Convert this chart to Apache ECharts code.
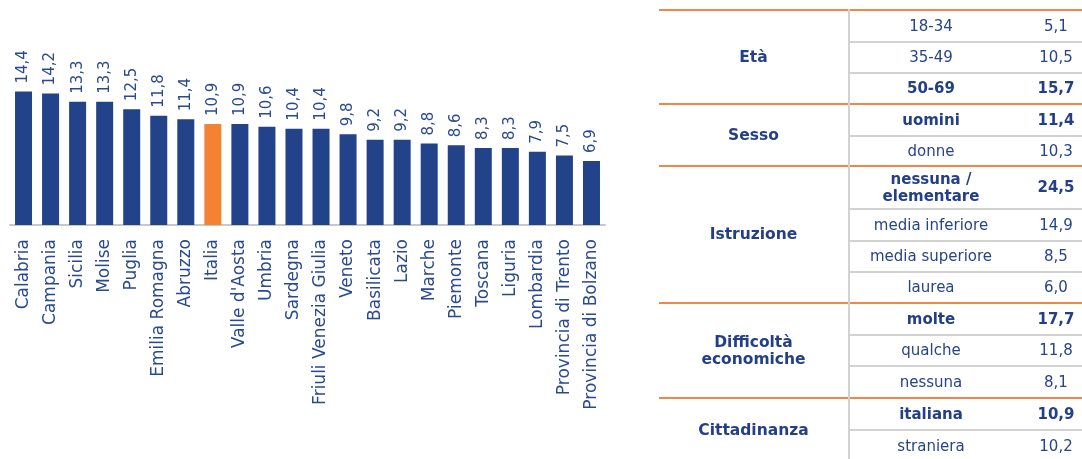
<!DOCTYPE html>
<html>
<head>
<meta charset="utf-8">
<script src="https://cdn.jsdelivr.net/npm/echarts@6/dist/echarts.min.js"></script>
<style>
  html, body { margin: 0; padding: 0; background: #fff; }
  #chart { position: absolute; left: 0; top: 0; width: 1082px; height: 459px; }
  #table {
    position: absolute; left: 659px; top: 9px; width: 423px;
    border-collapse: collapse; font-family: "DejaVu Sans", Verdana, sans-serif;
    font-size: 15px; color: #26448c;
  }
  #table td { padding: 0; text-align: center; line-height: 17px; }
  #table td.grp { width: 189px; font-weight: bold; font-size: 15.5px; border-right: 2px solid #d2d2d2; color: #223f88; }
  #table td.mid { width: 162px; }
  #table td.val { padding-left: 18px; }
  #table td.b { font-weight: bold; color: #223f88; }
  #table tr.first td { border-top: 2px solid #f0874a; }
  #table tr.inner td.mid, #table tr.inner td.val { border-top: 2px solid #d2d2d2; }
</style>
</head>
<body>
<div id="chart"></div>
<table id="table"></table>
<script>
const regions = ['Calabria', 'Campania', 'Sicilia', 'Molise', 'Puglia', 'Emilia Romagna', 'Abruzzo', 'Italia',
  "Valle d'Aosta", 'Umbria', 'Sardegna', 'Friuli Venezia Giulia', 'Veneto', 'Basilicata', 'Lazio', 'Marche',
  'Piemonte', 'Toscana', 'Liguria', 'Lombardia', 'Provincia di Trento', 'Provincia di Bolzano']
const rates = [14.4, 14.2, 13.3, 13.3, 12.5, 11.8, 11.4, 10.9, 10.9, 10.6, 10.4, 10.4, 9.8, 9.2, 9.2, 8.8,
  8.6, 8.3, 8.3, 7.9, 7.5, 6.9]
const highlight = 'Italia'

// table: group label, rows [label, value, bold]
const groups = ['Età', 'Sesso', 'Istruzione', 'Difficoltà<br>economiche', 'Cittadinanza']
const groupRows = [
  [['18-34', '5,1', false], ['35-49', '10,5', false], ['50-69', '15,7', true]],
  [['uomini', '11,4', true], ['donne', '10,3', false]],
  [['nessuna /<br>elementare', '24,5', true], ['media inferiore', '14,9', false], ['media superiore', '8,5', false], ['laurea', '6,0', false]],
  [['molte', '17,7', true], ['qualche', '11,8', false], ['nessuna', '8,1', false]],
  [['italiana', '10,9', true], ['straniera', '10,2', false]]
]

const blue = '#22428a'
const orange = '#f58233'
const textBlue = '#2a4a90'

const chart = echarts.init(document.getElementById('chart'))
chart.setOption({
  animation: false,
  grid: { left: 10, right: 477, top: 86, bottom: 234 },
  xAxis: {
    type: 'category',
    data: regions,
    axisTick: { show: false },
    axisLine: { lineStyle: { color: '#c8c8c8', width: 2 } },
    axisLabel: {
      interval: 0,
      rotate: 90,
      margin: 14,
      color: textBlue,
      fontFamily: 'DejaVu Sans',
      fontSize: 17
    }
  },
  yAxis: {
    type: 'value',
    min: 0,
    max: 15,
    show: false,
    splitLine: { show: false }
  },
  series: [{
    type: 'bar',
    barWidth: 17,
    data: rates.map((v, i) => ({
      value: v,
      itemStyle: { color: regions[i] === highlight ? orange : blue }
    })),
    label: {
      show: true,
      position: 'top',
      rotate: 90,
      align: 'left',
      verticalAlign: 'middle',
      distance: 8,
      color: textBlue,
      fontFamily: 'DejaVu Sans',
      fontSize: 15,
      formatter: (p) => String(p.value).replace('.', ',')
    }
  }]
})

// build the table
const rowHeights = [[32, 31, 31], [32, 30], [43, 32, 31, 31], [32, 31, 32], [32, 31]]
let html = ''
groups.forEach((g, gi) => {
  groupRows[gi].forEach((r, ri) => {
    const cls = ri === 0 ? 'first' : 'inner'
    html += '<tr class="' + cls + '" style="height:' + rowHeights[gi][ri] + 'px">'
    if (ri === 0) {
      html += '<td class="grp" rowspan="' + groupRows[gi].length + '">' + g + '</td>'
    }
    const b = r[2] ? ' b' : ''
    html += '<td class="mid' + b + '">' + r[0] + '</td><td class="val' + b + '">' + r[1] + '</td></tr>'
  })
})
document.getElementById('table').innerHTML = html
</script>
</body>
</html>
